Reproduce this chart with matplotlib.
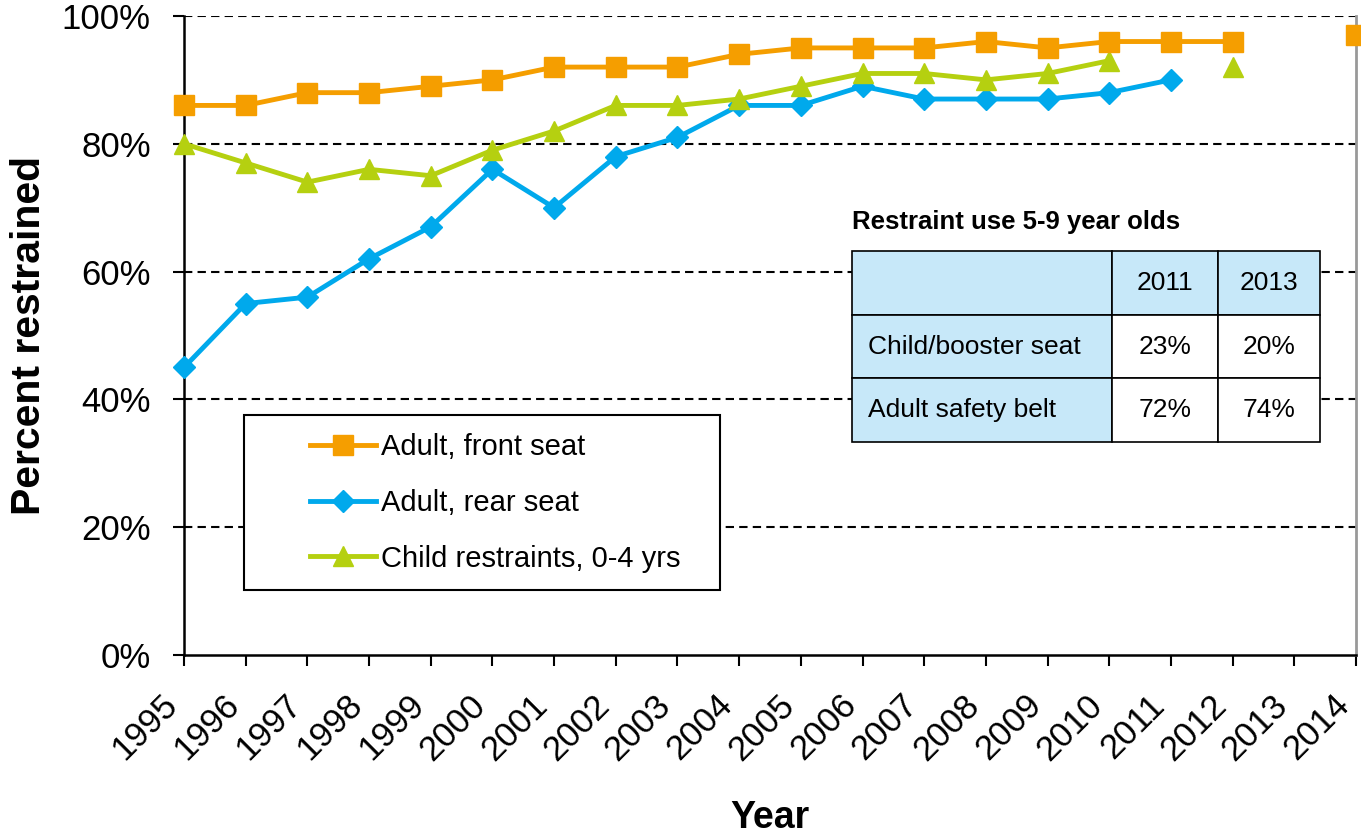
import matplotlib
matplotlib.use("Agg")
import matplotlib.pyplot as plt
import numpy as np
from matplotlib.ticker import PercentFormatter
from matplotlib.patches import Rectangle

plt.rcParams['font.family'] = ['Liberation Sans', 'DejaVu Sans']

# Data (NaN = no survey that year)
years = list(range(1995, 2015))
front_seat = [86, 86, 88, 88, 89, 90, 92, 92, 92, 94, 95, 95, 95, 96, 95, 96, 96, 96, np.nan, 97]
rear_seat = [45, 55, 56, 62, 67, 76, 70, 78, 81, 86, 86, 89, 87, 87, 87, 88, 90, np.nan, np.nan, np.nan]
child_0_4 = [80, 77, 74, 76, 75, 79, 82, 86, 86, 87, 89, 91, 91, 90, 91, 93, np.nan, 92, np.nan, np.nan]

series_labels = ['Adult, front seat', 'Adult, rear seat', 'Child restraints, 0-4 yrs']

# Inset table: restraint use 5-9 year olds
table_title = 'Restraint use 5-9 year olds'
table_years = ['2011', '2013']
table_rows = ['Child/booster seat', 'Adult safety belt']
table_values = [['23%', '20%'], ['72%', '74%']]

orange = '#F59E00'
blue = '#00A9EC'
green = '#B5D010'
light_blue = '#C7E8F9'

fig = plt.figure(figsize=(13.61, 8.36), dpi=100)
ax = fig.add_axes([0.1352, 0.2165, 0.8611, 0.7644])

ax.plot(years, front_seat, color=orange, lw=3.5, marker='s', ms=14, clip_on=False, zorder=5)
ax.plot(years, rear_seat, color=blue, lw=3.5, marker='D', ms=11, clip_on=False, zorder=4)
ax.plot(years, child_0_4, color=green, lw=3.5, marker='^', ms=15, clip_on=False, zorder=4)

ax.set_xlim(1995, 2014)
ax.set_ylim(0, 100)
ax.set_xticks(years)
ax.set_xticklabels([str(y) for y in years], rotation=45, ha='right', fontsize=25)
ax.set_yticks([0, 20, 40, 60, 80, 100])
ax.yaxis.set_major_formatter(PercentFormatter(decimals=0))
ax.tick_params(axis='y', labelsize=25, length=8, width=1.5, pad=16, direction='out')
ax.tick_params(axis='x', length=8, width=1.5, pad=16, direction='out')

for y in [20, 40, 60, 80, 100]:
    ax.axhline(y, color='black', lw=1.5, ls=(0, (4, 2.5)), zorder=1)

ax.spines['top'].set_visible(False)
ax.spines['right'].set_color('#999999')
ax.spines['right'].set_linewidth(2)
ax.spines['left'].set_linewidth(1.8)
ax.spines['bottom'].set_linewidth(1.8)

ax.set_xlabel('Year', fontsize=27, fontweight='bold', labelpad=24)
ax.set_ylabel('Percent restrained', fontsize=29.5, fontweight='bold', labelpad=10)

# legend with an Excel style box around it
ax.add_patch(Rectangle((0.0512, 0.1017), 0.4061, 0.2739, transform=ax.transAxes,
                       facecolor='white', edgecolor='black', lw=1.5, zorder=6))
leg = ax.legend(series_labels, loc='upper left', bbox_to_anchor=(0.1075, 0.347),
                frameon=False, fontsize=21, handlelength=2.25, handletextpad=0.2,
                labelspacing=0.95, borderpad=0, borderaxespad=0)
leg.set_zorder(7)

# inset table
ax.text(0.570, 0.678, table_title, transform=ax.transAxes, fontsize=18.5,
        fontweight='bold', va='center', ha='left')
cell_text = [[''] + table_years] + [[r] + v for r, v in zip(table_rows, table_values)]
tbl = ax.table(cellText=cell_text, bbox=[0.570, 0.3333, 0.3993, 0.2989],
               colWidths=[260, 106, 102], cellLoc='center', zorder=8)
tbl.auto_set_font_size(False)
for (r, c), cell in tbl.get_celld().items():
    cell.set_edgecolor('black')
    cell.set_linewidth(1.2)
    cell.get_text().set_fontsize(19)
    if r == 0 or c == 0:
        cell.set_facecolor(light_blue)
    else:
        cell.set_facecolor('white')
    if c == 0:
        cell.get_text().set_ha('left')
        cell.PAD = 0.06

fig.savefig('out.png', dpi=100)
